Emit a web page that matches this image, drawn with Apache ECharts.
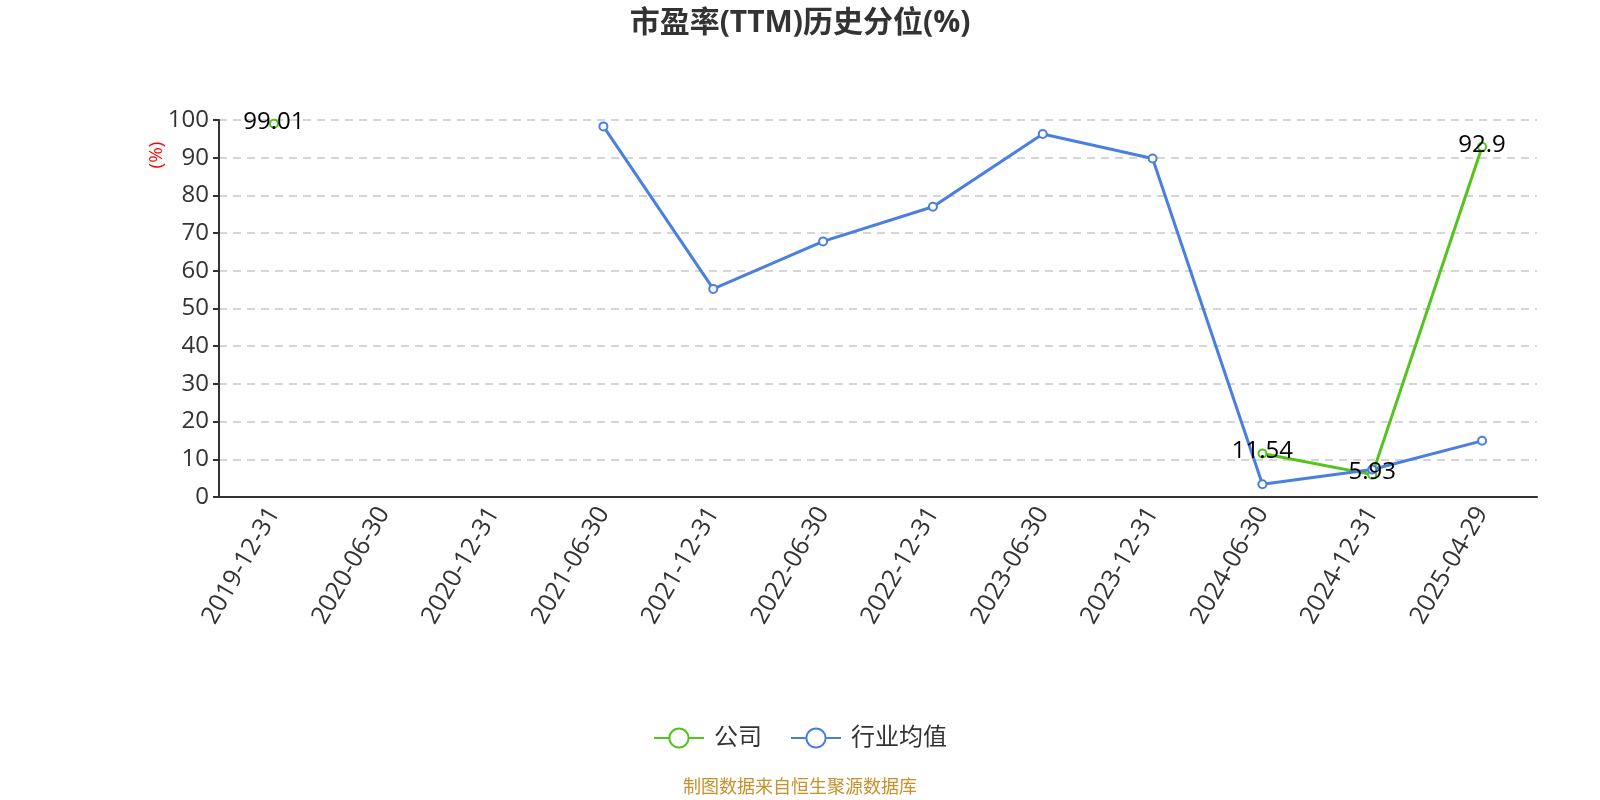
<!DOCTYPE html>
<html><head><meta charset="utf-8">
<script src="https://cdn.jsdelivr.net/npm/echarts@6/dist/echarts.min.js"></script>
<style>html,body{margin:0;padding:0;background:#fff}#c{width:1600px;height:800px}</style>
</head><body><div id="c"></div>
<script>
const categories = ['2019-12-31','2020-06-30','2020-12-31','2021-06-30','2021-12-31','2022-06-30','2022-12-31','2023-06-30','2023-12-31','2024-06-30','2024-12-31','2025-04-29'];
const companyValues = [99.01, null, null, null, null, null, null, null, null, 11.54, 5.93, 92.9];
const industryValues = [null, null, null, 98.3, 55.2, 67.8, 77.0, 96.3, 89.8, 3.4, 7.3, 14.9];
const seriesNames = ['公司', '行业均值'];
const titleText = '市盈率(TTM)历史分位(%)';
const sourceText = '制图数据来自恒生聚源数据库';
const yName = '(%)';

const font = '"Open Sans", "Noto Sans CJK SC", sans-serif';
const chart = echarts.init(document.getElementById('c'));
chart.setOption({
  animation: false,
  textStyle: { fontFamily: font },
  title: { text: titleText, left: 'center', top: 3, textStyle: { fontSize: 30, fontWeight: 'bold', color: '#333', fontFamily: font } },
  grid: { left: 219, right: 63, top: 120, bottom: 303 },
  legend: {
    data: seriesNames, bottom: 45, left: 'center', itemWidth: 50, itemHeight: 24, itemGap: 28,
    textStyle: { fontSize: 24, color: '#333', fontFamily: font, padding: [0, 0, 0, 5] }
  },
  graphic: [
    { type: 'text', left: 'center', top: 779, style: { text: sourceText, fill: '#c8902a', fontSize: 18, fontFamily: font } },
    { type: 'text', x: 157, y: 155, rotation: Math.PI / 2, style: { text: yName, fill: '#ff0000', fontSize: 19, fontFamily: font, align: 'center', verticalAlign: 'middle' } }
  ],
  xAxis: {
    type: 'category', data: categories, boundaryGap: true,
    axisLine: { lineStyle: { color: '#333', width: 2 } },
    axisTick: { alignWithLabel: false, length: 6, lineStyle: { color: '#333', width: 2 } },
    axisLabel: { rotate: 60, fontSize: 25, color: '#333', margin: 12, interval: 0, fontFamily: font }
  },
  yAxis: {
    type: 'value', min: 0, max: 100, interval: 10,
    axisLine: { show: true, lineStyle: { color: '#333', width: 2 } },
    axisTick: { show: true, length: 6, lineStyle: { color: '#333', width: 2 } },
    axisLabel: { fontSize: 24, color: '#333', margin: 10, fontFamily: font },
    splitLine: { lineStyle: { type: [8, 6], color: '#c8c8c8', width: 1.5 } }
  },
  series: [
    {
      name: seriesNames[0], type: 'line', data: companyValues,
      symbol: 'emptyCircle', symbolSize: 8,
      lineStyle: { color: '#52c41a', width: 3 }, itemStyle: { color: '#52c41a', borderWidth: 2 },
      label: { show: true, position: 'inside', offset: [0, -2], color: '#000', fontSize: 24, fontFamily: font }
    },
    {
      name: seriesNames[1], type: 'line', data: industryValues,
      symbol: 'emptyCircle', symbolSize: 8,
      lineStyle: { color: '#4a7fe0', width: 3 }, itemStyle: { color: '#4a7fe0', borderWidth: 2 }
    }
  ]
});
</script></body></html>
